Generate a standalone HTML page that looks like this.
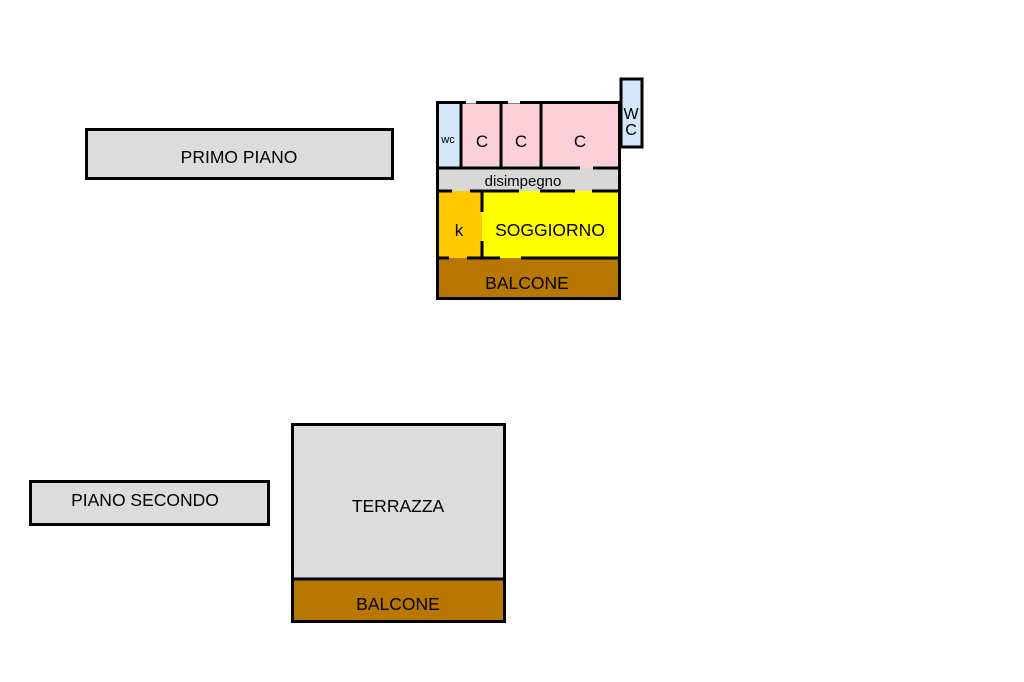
<!DOCTYPE html>
<html><head><meta charset="utf-8"><style>
html,body{margin:0;padding:0;background:#fff;width:1024px;height:682px;overflow:hidden}
svg text{font-family:"Liberation Sans",Arial,sans-serif;fill:#000}
</style></head><body>
<svg width="1024" height="682" viewBox="0 0 1024 682" xmlns="http://www.w3.org/2000/svg">
<rect x="86.5" y="129.5" width="306" height="49" fill="#dcdcdc" stroke="#000" stroke-width="3"/>
<text x="239" y="163" font-size="17.5" text-anchor="middle">PRIMO PIANO</text>
<rect x="30.5" y="481.5" width="238" height="43" fill="#dcdcdc" stroke="#000" stroke-width="3"/>
<text x="145" y="506" font-size="17.5" text-anchor="middle">PIANO SECONDO</text>

<rect x="437" y="102" width="182" height="66" fill="#fcd0d8"/>
<rect x="437" y="102" width="24" height="66" fill="#d4e6f8"/>
<rect x="437" y="168" width="182" height="23" fill="#d8d8d8"/>
<rect x="437" y="191" width="45" height="67" fill="#ffc800"/>
<rect x="482" y="191" width="137" height="67" fill="#ffff00"/>
<rect x="437" y="258" width="182" height="41" fill="#b87800"/>
<rect x="621" y="79" width="21" height="68" fill="#d4e6f8" stroke="#000" stroke-width="3"/>
<g stroke="#000" stroke-width="3" fill="none">
<rect x="437.5" y="102.5" width="182" height="196"/>
<line x1="461" y1="102" x2="461" y2="168"/>
<line x1="501" y1="102" x2="501" y2="168"/>
<line x1="541" y1="102" x2="541" y2="168"/>
<line x1="437" y1="168" x2="580" y2="168"/>
<line x1="593" y1="168" x2="619" y2="168"/>
<line x1="437" y1="191" x2="452" y2="191"/>
<line x1="470" y1="191" x2="519" y2="191"/>
<line x1="540" y1="191" x2="575" y2="191"/>
<line x1="592" y1="191" x2="619" y2="191"/>
<line x1="482" y1="191" x2="482" y2="212"/>
<line x1="482" y1="241" x2="482" y2="258"/>
<line x1="437" y1="258" x2="449" y2="258"/>
<line x1="467" y1="258" x2="500" y2="258"/>
<line x1="521" y1="258" x2="619" y2="258"/>
</g>
<g stroke="#fff" stroke-width="3">
<line x1="466" y1="102" x2="476" y2="102"/>
<line x1="508" y1="102" x2="520" y2="102"/>
</g>
<text x="448" y="143" font-size="11" text-anchor="middle">wc</text>
<text x="482" y="147" font-size="17" text-anchor="middle">C</text>
<text x="521" y="147" font-size="17" text-anchor="middle">C</text>
<text x="580" y="147" font-size="17" text-anchor="middle">C</text>
<text x="631" y="119" font-size="16" text-anchor="middle">W</text>
<text x="631" y="135" font-size="16" text-anchor="middle">C</text>
<text x="523" y="186" font-size="15" text-anchor="middle">disimpegno</text>
<text x="459" y="236" font-size="17" text-anchor="middle">k</text>
<text x="550" y="236" font-size="17.5" text-anchor="middle">SOGGIORNO</text>
<text x="527" y="289" font-size="17.5" text-anchor="middle">BALCONE</text>

<rect x="292" y="424" width="212" height="155" fill="#dcdcdc"/>
<rect x="292" y="579" width="212" height="43" fill="#b87800"/>
<g stroke="#000" stroke-width="3" fill="none">
<rect x="292.5" y="424.5" width="212" height="197"/>
<line x1="292" y1="579" x2="504" y2="579"/>
</g>
<text x="398" y="512" font-size="17.5" text-anchor="middle">TERRAZZA</text>
<text x="398" y="610" font-size="17.5" text-anchor="middle">BALCONE</text>
</svg>
</body></html>
